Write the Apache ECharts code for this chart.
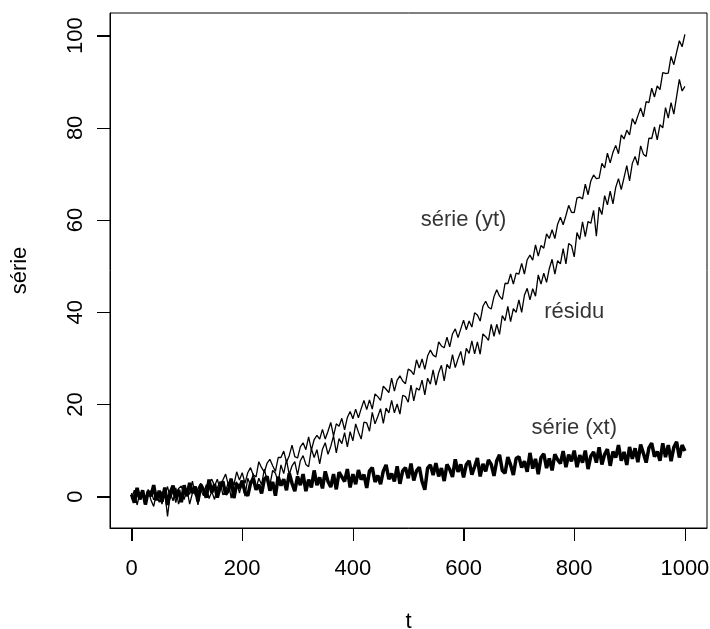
<!DOCTYPE html>
<html>
<head>
<meta charset="utf-8">
<script src="https://cdn.jsdelivr.net/npm/echarts@6/dist/echarts.min.js"></script>
<style>html,body{margin:0;padding:0;background:#fff}#c{width:710px;height:629px}</style>
</head>
<body>
<div id="c"></div>
<script>
// sample positions t
var tVals = [0,5,10,15,20,25,30,35,40,45,50,55,60,65,70,75,80,85,90,95,
100,105,110,115,120,125,130,135,140,145,150,155,160,165,170,175,180,185,190,195,
200,205,210,215,220,225,230,235,240,245,250,255,260,265,270,275,280,285,290,295,
300,305,310,315,320,325,330,335,340,345,350,355,360,365,370,375,380,385,390,395,
400,405,410,415,420,425,430,435,440,445,450,455,460,465,470,475,480,485,490,495,
500,505,510,515,520,525,530,535,540,545,550,555,560,565,570,575,580,585,590,595,
600,605,610,615,620,625,630,635,640,645,650,655,660,665,670,675,680,685,690,695,
700,705,710,715,720,725,730,735,740,745,750,755,760,765,770,775,780,785,790,795,
800,805,810,815,820,825,830,835,840,845,850,855,860,865,870,875,880,885,890,895,
900,905,910,915,920,925,930,935,940,945,950,955,960,965,970,975,980,985,990,995,1000];

// série (yt)
var yt = [0.8,-1.2,1.6,-0.3,1.0,-1.7,0.5,1.3,-0.7,0.5,
-1.2,1.1,0.2,2.2,-0.4,1.2,-1.3,1.8,2.3,0.5,
1.7,0.5,3.4,0.3,1.8,2.9,1.3,0.5,3.0,3.8,
2.3,3.8,1.5,3.6,4.9,2.5,3.9,2.6,5.4,3.6,
5.2,2.9,5.2,6.3,4.7,4.3,7.6,6.3,5.3,7.3,
8.1,6.7,5.5,8.5,8.5,9.9,7.5,8.9,11.2,8.7,
8.4,10.8,11.7,10.2,13.0,10.1,12.4,13.3,12.5,14.6,
12.5,14.2,16.1,13.2,15.8,15.3,17.0,14.5,17.2,18.5,
16.9,19.0,17.1,19.1,20.9,18.9,21.0,19.0,22.3,21.7,
20.9,24.0,23.3,22.6,25.7,22.9,25.3,26.2,25.1,24.5,
27.7,27.3,26.5,29.7,27.9,29.9,27.6,30.5,31.8,30.7,
30.3,33.6,32.7,32.3,34.6,32.5,35.3,36.4,34.5,36.4,
38.3,36.2,38.1,36.8,39.9,39.4,38.1,41.3,42.4,41.1,
40.7,43.4,44.9,43.5,42.8,46.3,46.2,48.3,46.1,48.5,
48.3,50.6,48.3,51.4,52.4,51.3,54.6,52.2,54.5,53.9,
57.0,56.0,57.9,56.0,59.1,60.6,59.0,61.0,63.2,61.7,
61.6,64.8,65.0,64.6,67.8,65.5,68.5,69.8,69.0,69.1,
72.3,71.3,74.5,72.4,74.7,76.2,74.4,78.5,77.6,79.5,
78.5,82.0,80.8,82.6,84.3,82.4,85.7,85.5,88.6,86.7,
89.1,88.3,92.0,91.8,91.9,95.5,93.7,96.4,98.9,97.6,
100.3];

// série (xt)
var xt = [0.5,-1.3,1.9,-0.6,1.4,-1.7,1.2,0.1,2.5,-0.8,
1.3,-1.1,2.0,-1.8,1.0,2.4,-0.3,1.5,-1.2,2.5,
0.1,3.0,0.8,2.2,-1.0,2.6,1.5,-0.2,3.7,0.9,
2.7,-0.2,2.1,3.3,0.5,1.3,3.9,-0.3,2.8,1.8,
3.5,1.0,0.2,2.9,4.0,1.5,2.6,0.7,3.8,4.4,
1.3,3.2,0.2,4.3,2.4,3.8,1.4,5.1,2.9,1.2,
4.4,2.5,4.9,1.2,3.7,2.0,5.7,2.5,4.2,1.8,
5.5,3.3,2.1,4.9,1.6,5.3,4.3,3.3,6.0,2.0,
4.9,2.7,5.8,3.7,4.8,1.9,5.6,6.3,3.2,4.6,
2.7,5.6,6.9,3.8,5.0,3.3,6.6,2.8,5.6,6.3,
4.0,7.2,3.5,5.6,6.4,3.3,1.5,6.2,6.9,4.7,
7.3,4.4,6.2,3.4,7.0,5.9,4.3,8.1,5.4,7.0,
4.2,7.0,7.8,4.8,6.5,8.4,4.4,7.1,5.5,8.0,
7.0,4.5,7.8,9.1,5.7,5.1,8.6,6.9,4.7,8.3,
8.7,6.3,7.7,5.4,9.5,6.1,8.2,4.9,8.5,9.3,
6.2,8.3,5.7,9.2,8.0,7.2,9.9,6.4,9.1,7.7,
10.0,6.4,9.0,7.4,10.0,6.0,8.8,9.7,7.4,10.7,
7.0,9.2,10.3,6.7,9.8,8.5,11.2,7.8,9.7,6.9,
10.8,8.2,10.5,7.5,11.3,9.4,7.4,10.6,11.6,8.7,
9.8,7.8,11.6,8.6,11.2,7.7,10.7,11.9,8.5,11.2,
9.9];

// résidu
var residu = [-0.5,1.4,-1.8,0.8,0.1,-1.2,1.6,-0.7,-2.1,0.8,
0.4,-1.6,1.1,-4.3,0.8,-0.9,1.9,-1.6,0.4,-0.6,
1.7,-1.6,0.8,1.5,-1.8,1.5,0.2,2.6,-0.4,1.1,
-0.6,1.9,3.3,0.4,1.2,3.2,-0.3,2.5,3.2,0.8,
3.2,0.1,4.0,2.5,5.0,1.8,4.0,2.6,6.0,3.4,
2.5,5.7,5.1,3.1,6.9,5.0,8.0,4.8,6.7,7.6,
4.7,7.8,8.9,7.0,6.5,10.4,8.5,10.2,7.1,10.3,
11.7,9.2,10.9,13.2,9.5,12.6,11.5,13.9,10.8,14.1,
12.1,15.8,14.0,12.5,16.2,16.0,14.2,18.3,15.8,17.4,
19.1,15.9,19.2,18.2,20.9,18.2,20.1,17.9,22.0,21.7,
20.5,24.2,20.8,23.6,23.1,25.3,22.1,25.7,24.4,27.5,
24.2,26.9,28.5,25.1,28.7,27.8,30.8,28.0,29.9,31.5,
28.5,32.2,31.1,33.8,31.0,33.6,30.9,35.3,34.7,33.9,
37.4,34.8,37.4,35.2,39.3,38.2,41.3,38.0,40.8,40.0,
42.7,40.0,43.7,45.2,42.7,45.1,43.5,48.1,46.1,48.5,
46.5,49.5,51.5,48.3,51.2,50.5,53.8,50.5,54.9,54.5,
52.0,57.3,55.8,59.6,56.4,59.7,59.3,62.1,56.5,62.8,
61.2,65.3,63.3,66.3,63.5,67.1,69.0,66.6,69.2,71.8,
68.5,72.3,73.8,71.9,76.1,74.3,73.8,77.8,77.7,80.2,
77.4,80.7,80.0,84.4,82.1,85.5,83.0,86.8,90.5,88.0,
89.0];

var xTicks = [0,200,400,600,800,1000];
var yTicks = [0,20,40,60,80,100];
var noteText = ['série (yt)','résidu','série (xt)'];
var noteT = [600,800,800];
var noteV = [60,40,15];

function pairs(ys){ return tVals.map(function(t,i){ return [t, ys[i]]; }); }
var font = "'Liberation Sans', Arial, Helvetica, sans-serif";
var notes = noteText.map(function(s,i){ return {value:[noteT[i], noteV[i]], name:s}; });
function plain(v){ return String(v); }

var GL = 110, GT = 13, GR = 3, GB = 101, W = 710, H = 629, TICK = 13;

var chart = echarts.init(document.getElementById('c'), null, {renderer:'canvas'});
chart.setOption({
  animation:false,
  backgroundColor:'#fff',
  grid:{left:GL, right:GR, top:GT, bottom:GB, show:true, borderColor:'#000', borderWidth:1, containLabel:false, outerBoundsMode:'none'},
  xAxis:{
    type:'value', min:-38.96, max:1039.96,
    name:'t', nameLocation:'middle', nameGap:83,
    nameTextStyle:{fontFamily:font, fontSize:22, color:'#000'},
    axisLine:{show:true, onZero:false, lineStyle:{color:'#000', width:1}},
    axisTick:{show:true, length:TICK, customValues:xTicks, lineStyle:{color:'#000', width:1}},
    axisLabel:{customValues:xTicks, formatter:plain, margin:30, fontFamily:font, fontSize:22, color:'#000'},
    splitLine:{show:false}
  },
  yAxis:{
    type:'value', min:-6.79, max:104.92,
    name:'série', nameLocation:'middle', nameGap:79,
    nameTextStyle:{fontFamily:font, fontSize:22, color:'#000'},
    axisLine:{show:true, onZero:false, lineStyle:{color:'#000', width:1}},
    axisTick:{show:true, length:TICK, customValues:yTicks, lineStyle:{color:'#000', width:1}},
    axisLabel:{customValues:yTicks, formatter:plain, rotate:90, margin:23, fontFamily:font, fontSize:22, color:'#000'},
    splitLine:{show:false}
  },
  series:[
    {type:'line', data:pairs(xt), showSymbol:false, lineStyle:{color:'#000', width:3.5}, itemStyle:{color:'#000'}, z:3},
    {type:'line', data:pairs(residu), showSymbol:false, lineStyle:{color:'#000', width:1.3}, itemStyle:{color:'#000'}, z:2},
    {type:'line', data:pairs(yt), showSymbol:false, lineStyle:{color:'#000', width:1.3}, itemStyle:{color:'#000'}, z:2},
    {type:'scatter', data:notes, symbolSize:0, silent:true,
     label:{show:true, position:'inside', formatter:function(p){return p.name;}, fontFamily:font, fontSize:22, color:'#000'}, z:5}
  ]
});

// outward tick marks placed through the axes' own scales
var tickEls = [];
var yBottom = H - GB;
xTicks.forEach(function(v){
  var px = Math.round(chart.convertToPixel({xAxisIndex:0}, v)) + 0.5;
  tickEls.push({type:'line', silent:true, z:10,
    shape:{x1:px, y1:yBottom, x2:px, y2:yBottom + TICK},
    style:{stroke:'#000', lineWidth:1}});
});
yTicks.forEach(function(v){
  var py = Math.round(chart.convertToPixel({yAxisIndex:0}, v)) + 0.5;
  tickEls.push({type:'line', silent:true, z:10,
    shape:{x1:GL - TICK, y1:py, x2:GL, y2:py},
    style:{stroke:'#000', lineWidth:1}});
});
chart.setOption({graphic:tickEls});
</script>
</body>
</html>
